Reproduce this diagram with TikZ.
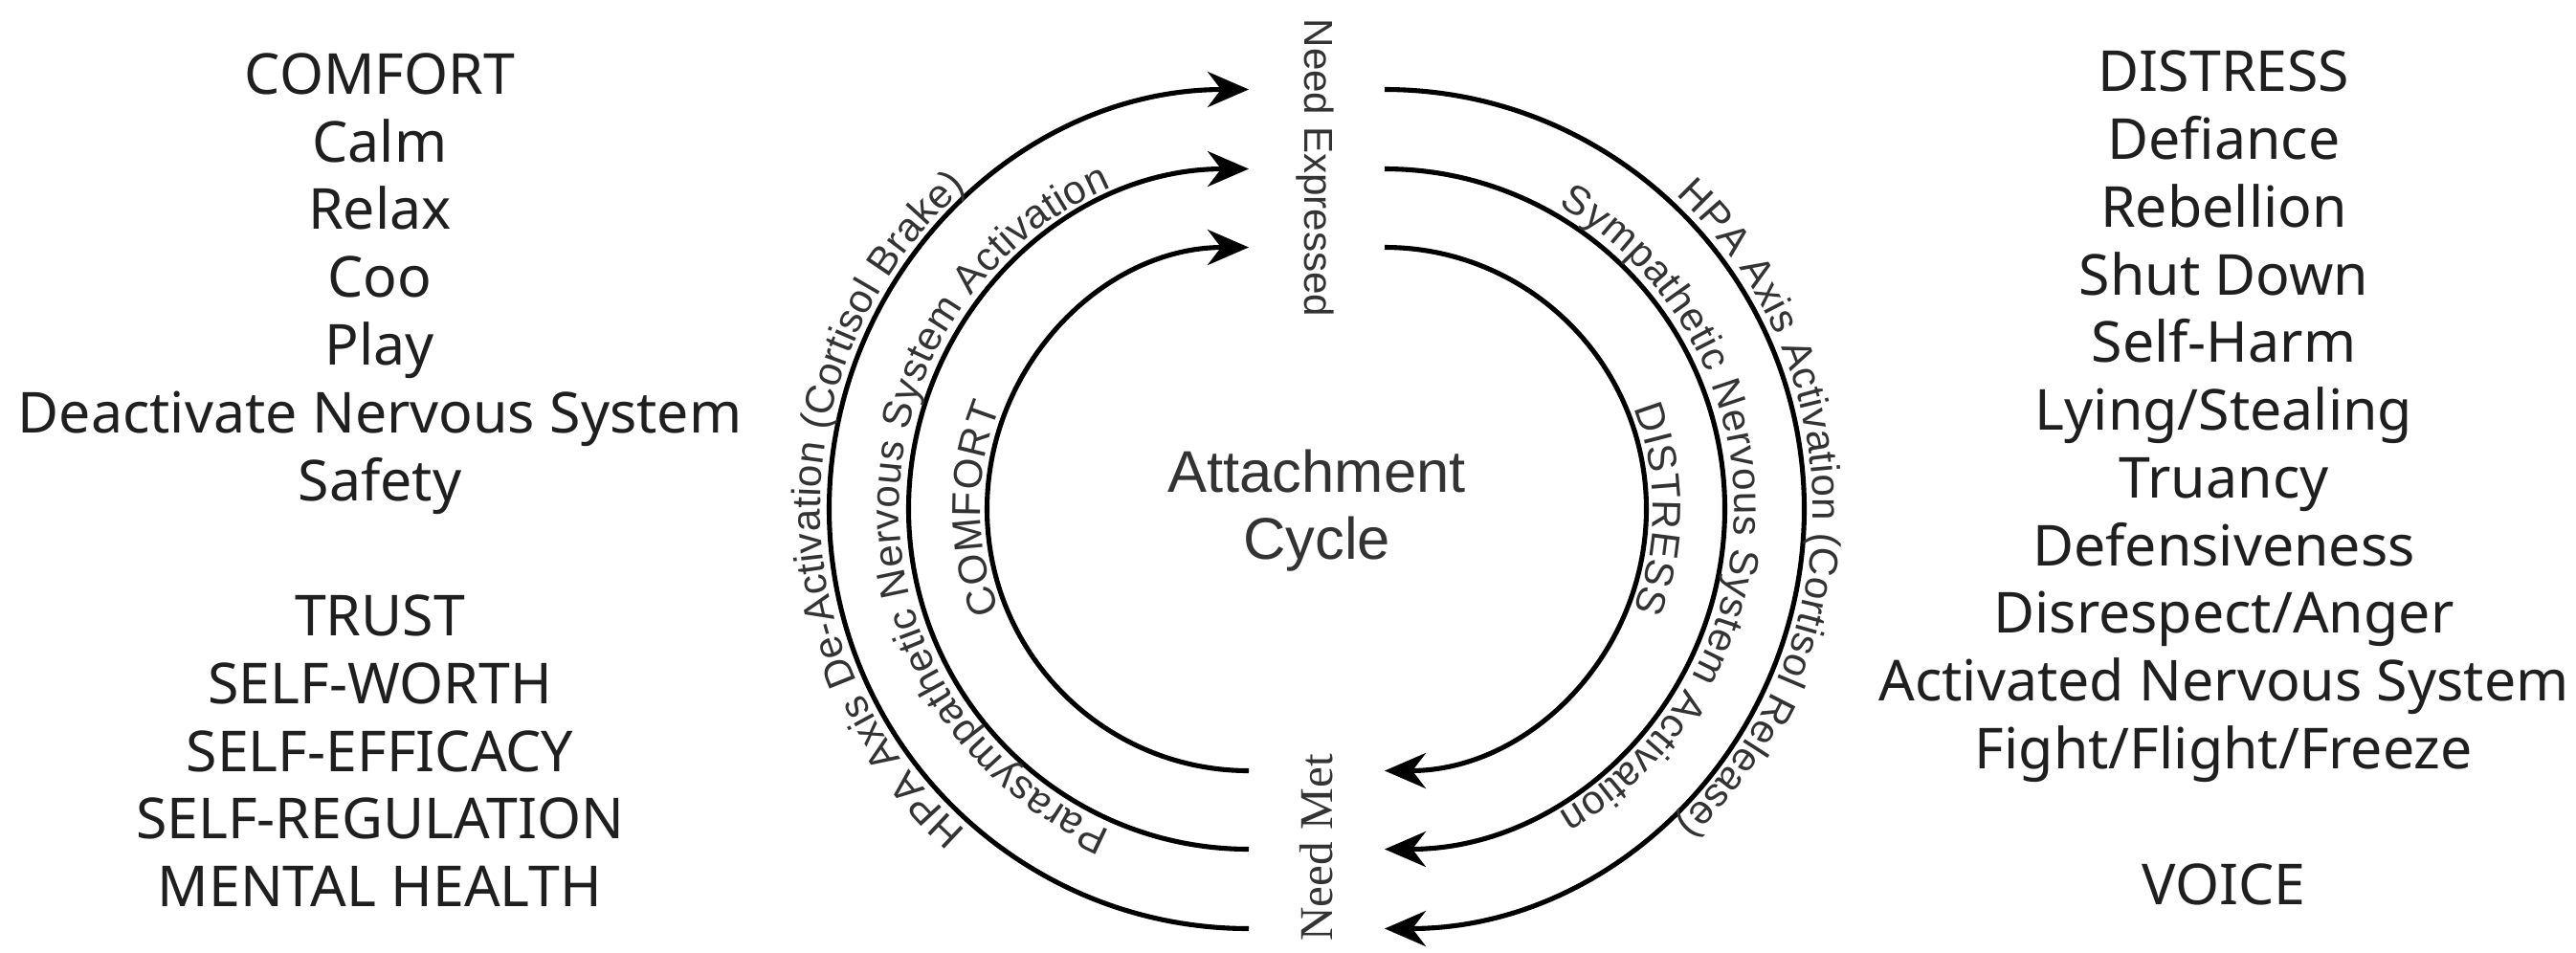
\documentclass[tikz,border=0pt]{standalone}
\usepackage{fontspec}
\setmainfont{Noto Sans}
\newfontfamily\arcfont{Liberation Sans}
\newfontfamily\metfont{Liberation Serif}
\newcommand{\arcstyle}{\arcfont\fontsize{12}{14}\selectfont}
\usetikzlibrary{arrows.meta,decorations.text}

\begin{document}
\begin{tikzpicture}[
    cycarrow/.style={line width=1.45pt, -{Stealth[length=4.3mm, width=3.7mm, inset=1.4mm]}},
    listtext/.style={align=center, anchor=base, inner sep=0pt, text=black!88,
        font=\fontsize{16.8}{20.14}\selectfont},
    arclabel/.style={decorate, decoration={text along path, text align=center,
        text color=black!80, raise=#1}},
    sidelabel/.style={inner sep=0pt, text=black!80}
]
    \useasboundingbox (0,0) rectangle (26.92,-9.95);

    % 圆心
    \coordinate (cl) at (13.05,-5.32);
    \coordinate (cr) at (14.47,-5.32);

    % 两侧列表 (anchor=base 对齐最后一行)
    \node[listtext] (comfort) at (3.97,-5.23) {COMFORT\\Calm\\Relax\\Coo\\Play\\Deactivate Nervous System\\Safety};
    \node[listtext] (trust) at (3.97,-9.476) {TRUST\\SELF-WORTH\\SELF-EFFICACY\\SELF-REGULATION\\MENTAL HEALTH};
    \node[listtext] (distress) at (23.24,-8.035) {DISTRESS\\Defiance\\Rebellion\\Shut Down\\Self-Harm\\Lying/Stealing\\Truancy\\Defensiveness\\Disrespect/Anger\\Activated Nervous System\\Fight/Flight/Freeze};
    \node[listtext] (voice) at (23.24,-9.45) {VOICE};

    % 中间文字
    \node[sidelabel, font=\fontsize{17.5}{19.9}\selectfont\arcfont, align=center] (cycle) at (13.76,-5.34) {Attachment\\Cycle};
    \node[sidelabel, font=\arcstyle, rotate=-90, anchor=base] (expressed) at (13.63,-1.755) {Need Expressed};
    \node[sidelabel, font=\metfont\fontsize{14}{16}\selectfont, rotate=90, anchor=base] (met) at (13.92,-8.86) {Need Met};

    % 圆弧端点
    \coordinate (metl1) at (13.05,-8.055);
    \coordinate (metl2) at (13.05,-8.875);
    \coordinate (metl3) at (13.05,-9.705);
    \coordinate (expr1) at (14.47,-2.585);
    \coordinate (expr2) at (14.47,-1.765);
    \coordinate (expr3) at (14.47,-0.935);

    % 圆弧
    \draw[cycarrow] (metl1) arc[start angle=270, end angle=90, radius=2.735];
    \draw[cycarrow] (metl2) arc[start angle=270, end angle=90, radius=3.555];
    \draw[cycarrow] (metl3) arc[start angle=270, end angle=90, radius=4.385];
    \draw[cycarrow] (expr1) arc[start angle=90, end angle=-90, radius=2.735];
    \draw[cycarrow] (expr2) arc[start angle=90, end angle=-90, radius=3.555];
    \draw[cycarrow] (expr3) arc[start angle=90, end angle=-90, radius=4.385];

    % 弧上文字
    \path[arclabel=0.07cm, decoration={text={|\arcstyle|COMFORT}}]
        ([shift={(270:2.735)}]cl) arc[start angle=270, end angle=90, radius=2.735];
    \path[arclabel=0.1cm, decoration={text={|\arcstyle|Parasympathetic Nervous System Activation}}]
        ([shift={(270:3.555)}]cl) arc[start angle=270, end angle=90, radius=3.555];
    \path[arclabel=0.09cm, decoration={text={|\arcstyle|HPA Axis De-Activation (Cortisol Brake)}}]
        ([shift={(250:4.385)}]cl) arc[start angle=250, end angle=110, radius=4.385];
    \path[arclabel=0.07cm, decoration={text={|\arcstyle|DISTRESS}}]
        ([shift={(90:2.735)}]cr) arc[start angle=90, end angle=-90, radius=2.735];
    \path[arclabel=0.1cm, decoration={text={|\arcstyle|Sympathetic Nervous System Activation}}]
        ([shift={(90:3.555)}]cr) arc[start angle=90, end angle=-90, radius=3.555];
    \path[arclabel=0.09cm, decoration={text={|\arcstyle|HPA Axis Activation (Cortisol Release)}}]
        ([shift={(70:4.385)}]cr) arc[start angle=70, end angle=-70, radius=4.385];
\end{tikzpicture}
\end{document}
